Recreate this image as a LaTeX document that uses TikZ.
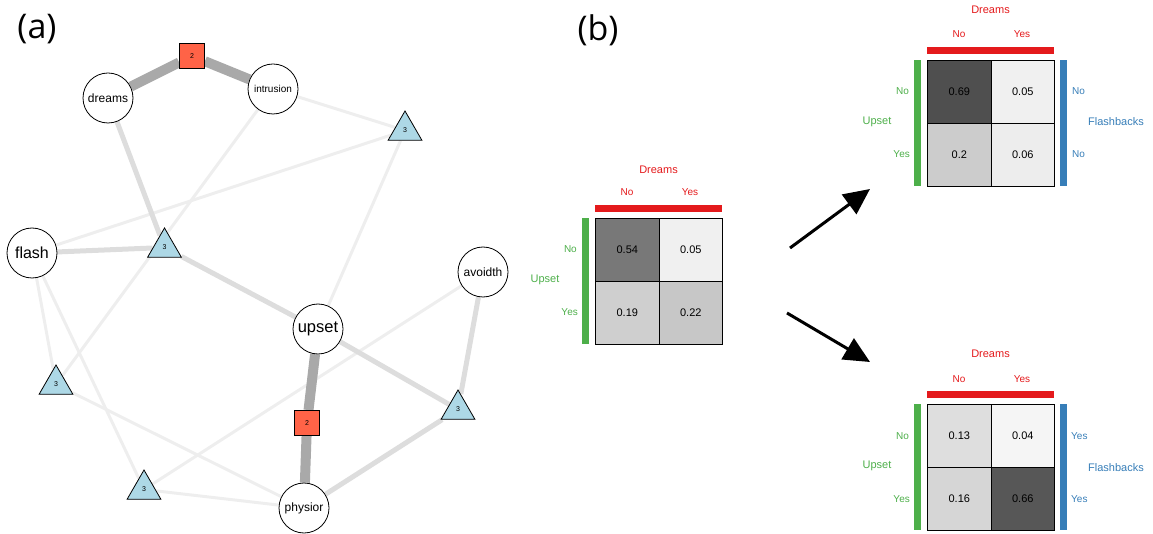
\documentclass[tikz,border=0pt]{standalone}
\usepackage{fontspec}
\setmainfont{Liberation Sans}
\newfontfamily\panelfont{Open Sans}
\usetikzlibrary{shapes.geometric,backgrounds,arrows.meta}

\definecolor{setred}{HTML}{E41A1C}
\definecolor{setgreen}{HTML}{4DAF4A}
\definecolor{setblue}{HTML}{377EB8}
\definecolor{triblue}{HTML}{ADD8E6}
\definecolor{sqred}{HTML}{FF6347}
\definecolor{edgedark}{HTML}{A9A9A9}
\definecolor{edgemid}{HTML}{DDDDDD}
\definecolor{edgelight}{HTML}{EEEEEE}

\newcommand{\fsz}[1]{\fontsize{#1}{#1}\selectfont}

\tikzset{
  var/.style={circle, draw=black, line width=0.8pt, fill=white,
    minimum size=50pt, inner sep=0pt},
  factor/.style={regular polygon, regular polygon sides=3, draw=black,
    line width=0.8pt, fill=triblue, minimum size=39pt, inner sep=0pt,
    font=\fsz{7}},
  pairbox/.style={rectangle, draw=black, line width=0.8pt, fill=sqred,
    minimum size=25pt, inner sep=0pt, font=\fsz{7}},
  strong/.style={line width=10pt, draw=edgedark},
  medium/.style={line width=5pt, draw=edgemid},
  weak/.style={line width=3pt, draw=edgelight},
  cell/.style={rectangle, draw=black, line width=1.1pt, minimum width=63.5pt,
    minimum height=63pt, inner sep=0pt, font=\fsz{11}},
  lab/.style={font=\fsz{11}, inner sep=0pt},
  small/.style={font=\fsz{10}, inner sep=0pt},
  panel/.style={font=\panelfont\fsz{34}, inner sep=0pt},
  bigarrow/.style={line width=3pt, -{Triangle[length=26pt,width=24pt]}},
}

\begin{document}
\begin{tikzpicture}[x=1pt,y=-1pt]
\useasboundingbox (0,0) rectangle (1153,534);

% ---------- panel (a): network ----------
\node[panel] (pa) at (37,29) {(a)};

\node[var, font=\fsz{12}] (dreams) at (108,98) {dreams};
\node[var, font=\fsz{10}] (intrusion) at (273,89) {intrusion};
\node[var, font=\fsz{16}] (flash) at (32,253) {flash};
\node[var, font=\fsz{12}] (avoidth) at (483,272) {avoidth};
\node[var, font=\fsz{16.5}] (upset) at (318,329) {upset};
\node[var, font=\fsz{12}] (physior) at (304,508) {physior};

\node[pairbox] (p1) at (192,56) {2};
\node[pairbox] (p2) at (307,423) {2};

\node[factor] (f1) at (405,130.5) {3};
\node[factor] (f2) at (164.5,247.5) {3};
\node[factor] (f3) at (56,384.5) {3};
\node[factor] (f4) at (458,409.5) {3};
\node[factor] (f5) at (144,489.5) {3};

\begin{scope}[on background layer]
  % weak edges
  \draw[weak] (intrusion) -- (f1);
  \draw[weak] (intrusion) -- (f3);
  \draw[weak] (flash) -- (f1);
  \draw[weak] (f1) -- (upset);
  \draw[weak] (flash) -- (f3);
  \draw[weak] (flash) -- (f5);
  \draw[weak] (f3) -- (physior);
  \draw[weak] (avoidth) -- (f5);
  \draw[weak] (f5) -- (physior);
  % medium edges
  \draw[medium] (dreams) -- (f2);
  \draw[medium] (flash) -- (f2);
  \draw[medium] (f2) -- (upset);
  \draw[medium] (avoidth) -- (f4);
  \draw[medium] (upset) -- (f4);
  \draw[medium] (f4) -- (physior);
  % strong edges
  \draw[strong] (dreams) -- (p1);
  \draw[strong] (p1) -- (intrusion);
  \draw[strong] (upset) -- (p2);
  \draw[strong] (p2) -- (physior);
\end{scope}

% ---------- panel (b): tables ----------
\node[panel] (pb) at (598,30) {(b)};

% middle table: Upset x Dreams
\begin{scope}[shift={(595,218)}]
  \node[cell, fill=black!53, anchor=north west] (m11) at (0,0) {0.54};
  \node[cell, fill=black!6, anchor=north west] (m12) at (63.5,0) {0.05};
  \node[cell, fill=black!19, anchor=north west] (m21) at (0,63) {0.19};
  \node[cell, fill=black!22, anchor=north west] (m22) at (63.5,63) {0.22};
  \fill[setred] (0,-13) rectangle (127,-6);
  \fill[setgreen] (-13,0) rectangle (-6,126);
  \node[lab, text=setred] (mdr) at (63.5,-48) {Dreams};
  \node[small, text=setred] (mdno) at (32,-26) {No};
  \node[small, text=setred] (mdyes) at (95,-26) {Yes};
  \node[small, text=setgreen, anchor=east] (muno) at (-18,31) {No};
  \node[small, text=setgreen, anchor=east] (muyes) at (-17,94) {Yes};
  \node[lab, text=setgreen] (mup) at (-50,62) {Upset};
\end{scope}

% top table: Flashbacks = No
\begin{scope}[shift={(927,60)}]
  \node[cell, fill=black!69, anchor=north west] (t11) at (0,0) {0.69};
  \node[cell, fill=black!6, anchor=north west] (t12) at (63.5,0) {0.05};
  \node[cell, fill=black!20, anchor=north west] (t21) at (0,63) {0.2};
  \node[cell, fill=black!7, anchor=north west] (t22) at (63.5,63) {0.06};
  \fill[setred] (0,-13) rectangle (127,-6);
  \fill[setgreen] (-13,0) rectangle (-6,126);
  \fill[setblue] (133,0) rectangle (140,126);
  \node[lab, text=setred] (tdr) at (63.5,-50) {Dreams};
  \node[small, text=setred] (tdno) at (32,-26) {No};
  \node[small, text=setred] (tdyes) at (95,-26) {Yes};
  \node[small, text=setgreen, anchor=east] (tuno) at (-18,31) {No};
  \node[small, text=setgreen, anchor=east] (tuyes) at (-17,94) {Yes};
  \node[lab, text=setgreen] (tup) at (-50,62) {Upset};
  \node[small, text=setblue, anchor=west] (tfno1) at (145,31) {No};
  \node[small, text=setblue, anchor=west] (tfno2) at (145,94) {No};
  \node[lab, text=setblue, anchor=west] (tfl) at (161,62) {Flashbacks};
\end{scope}

% bottom table: Flashbacks = Yes
\begin{scope}[shift={(927,404)}]
  \node[cell, fill=black!13, anchor=north west] (b11) at (0,0) {0.13};
  \node[cell, fill=black!4, anchor=north west] (b12) at (63.5,0) {0.04};
  \node[cell, fill=black!16, anchor=north west] (b21) at (0,63) {0.16};
  \node[cell, fill=black!66, anchor=north west] (b22) at (63.5,63) {0.66};
  \fill[setred] (0,-13) rectangle (127,-6);
  \fill[setgreen] (-13,0) rectangle (-6,126);
  \fill[setblue] (133,0) rectangle (140,126);
  \node[lab, text=setred] (bdr) at (63.5,-50) {Dreams};
  \node[small, text=setred] (bdno) at (32,-25) {No};
  \node[small, text=setred] (bdyes) at (95,-25) {Yes};
  \node[small, text=setgreen, anchor=east] (buno) at (-18,32) {No};
  \node[small, text=setgreen, anchor=east] (buyes) at (-17,95) {Yes};
  \node[lab, text=setgreen] (bup) at (-50,62) {Upset};
  \node[small, text=setblue, anchor=west] (bfy1) at (144,32) {Yes};
  \node[small, text=setblue, anchor=west] (bfy2) at (144,95) {Yes};
  \node[lab, text=setblue, anchor=west] (bfl) at (161,64) {Flashbacks};
\end{scope}

% arrows from the marginal table to the conditional tables
\coordinate (a1s) at (790,248);
\coordinate (a1e) at (870,189);
\coordinate (a2s) at (787,313);
\coordinate (a2e) at (870,362);
\draw[bigarrow] (a1s) -- (a1e);
\draw[bigarrow] (a2s) -- (a2e);
\end{tikzpicture}
\end{document}
